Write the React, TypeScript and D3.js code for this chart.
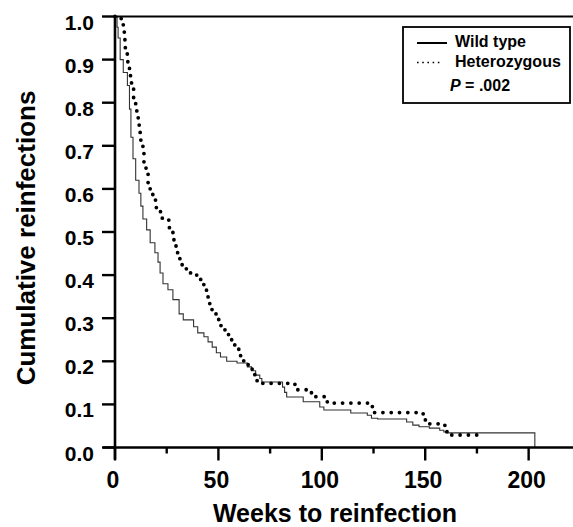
import React, { useEffect, useRef } from 'react';
import * as d3 from 'd3';

// Kaplan-Meier style steps (weeks, cumulative value after the step)
const wildWeeks = [
  0, 1, 1.5, 2.5, 4, 6, 7, 7.7, 8.7, 10,
  11.6, 12.5, 13.5, 15.3, 17, 19.3, 20.8, 21.8, 23.2, 25.6,
  28, 31, 33, 38, 40, 43, 45, 47, 49, 51,
  54, 59, 64, 66, 68, 70, 71, 81, 82, 83,
  91, 99, 101, 114, 122, 124, 127, 141, 144, 147,
  152, 157, 159, 160, 203
];
const wildValues = [
  1.0, 0.975, 0.95, 0.9, 0.87, 0.84, 0.785, 0.72, 0.67, 0.62,
  0.59, 0.56, 0.53, 0.505, 0.475, 0.452, 0.43, 0.405, 0.38, 0.366,
  0.343, 0.31, 0.296, 0.28, 0.266, 0.257, 0.245, 0.233, 0.22, 0.21,
  0.2, 0.196, 0.187, 0.178, 0.168, 0.16, 0.152, 0.14, 0.128, 0.117,
  0.106, 0.094, 0.087, 0.08, 0.075, 0.068, 0.066, 0.059, 0.052, 0.048,
  0.045, 0.04, 0.036, 0.034, 0
];

const hetWeeks = [
  0, 3, 4, 4.5, 5, 5.5, 6, 7, 7.5, 8,
  9, 10, 11, 11.5, 12, 12.5, 13.5, 14, 15, 16,
  17, 18, 19, 20, 22, 26, 27, 28, 28.5, 29.5,
  30.5, 32, 34.5, 36.5, 39, 40.5, 42, 43.5, 44.5, 45,
  46, 47.5, 49, 50.5, 52, 53.5, 56, 57.5, 58.5, 60,
  61.5, 63.5, 65, 66.5, 68, 70, 87, 94, 96, 102,
  104.5, 122.5, 125, 149, 151, 159.5, 161.5, 178
];
const hetValues = [
  1.0, 0.99, 0.966, 0.946, 0.926, 0.913, 0.895, 0.878, 0.862, 0.843,
  0.808, 0.781, 0.765, 0.748, 0.731, 0.7, 0.684, 0.653, 0.634, 0.614,
  0.599, 0.587, 0.574, 0.556, 0.532, 0.51, 0.502, 0.486, 0.469, 0.452,
  0.438, 0.424, 0.414, 0.405, 0.4, 0.39, 0.378, 0.365, 0.351, 0.334,
  0.32, 0.31, 0.297, 0.283, 0.273, 0.262, 0.25, 0.238, 0.228, 0.213,
  0.201, 0.192, 0.182, 0.169, 0.155, 0.149, 0.134, 0.127, 0.118, 0.106,
  0.103, 0.095, 0.081, 0.064, 0.055, 0.037, 0.029, 0.029
];

const yTicks = [0, 0.1, 0.2, 0.3, 0.4, 0.5, 0.6, 0.7, 0.8, 0.9, 1.0];
const xMajorTicks = [0, 50, 100, 150, 200];
const xMinorTicks = [25, 75, 125, 175];
const legendLabels = ['Wild type', 'Heterozygous'];

const FONT = '"Liberation Sans", Arial, sans-serif';

const App = () => {
  const ref = useRef<SVGSVGElement>(null);

  useEffect(() => {
    const width = 573;
    const height = 527;
    const svg = d3.select(ref.current).attr('width', width).attr('height', height);
    svg.selectAll('*').remove();

    const x = d3.scaleLinear().domain([0, 220]).range([115, 570]);
    const y = d3.scaleLinear().domain([0, 1]).range([447.5, 16.5]);

    const line = d3.line<[number, number]>()
      .x(d => x(d[0]))
      .y(d => y(d[1]))
      .curve(d3.curveStepAfter);

    const wild: [number, number][] = wildWeeks.map((w, i) => [w, wildValues[i]]);
    const het: [number, number][] = hetWeeks.map((w, i) => [w, hetValues[i]]);

    // curves
    svg.append('path')
      .attr('d', line(wild))
      .attr('fill', 'none')
      .attr('stroke', '#333')
      .attr('stroke-width', 1.1);

    svg.append('path')
      .attr('d', line(het))
      .attr('fill', 'none')
      .attr('stroke', '#000')
      .attr('stroke-width', 3.8)
      .attr('stroke-linecap', 'round')
      .attr('stroke-dasharray', '0 8.3');

    // frame: left axis, bottom axis, top line
    svg.append('line')
      .attr('x1', x(0)).attr('x2', x(0))
      .attr('y1', y(1) - 1).attr('y2', y(0) + 12)
      .attr('stroke', '#000').attr('stroke-width', 2.6);
    svg.append('line')
      .attr('x1', x(0) - 12).attr('x2', width)
      .attr('y1', y(0)).attr('y2', y(0))
      .attr('stroke', '#000').attr('stroke-width', 2.6);
    svg.append('line')
      .attr('x1', x(0)).attr('x2', width)
      .attr('y1', y(1)).attr('y2', y(1))
      .attr('stroke', '#000').attr('stroke-width', 2.2);

    // y ticks + labels
    const yg = svg.append('g');
    yg.selectAll('line').data(yTicks).join('line')
      .attr('x1', x(0) - 13).attr('x2', x(0))
      .attr('y1', d => y(d)).attr('y2', d => y(d))
      .attr('stroke', '#000').attr('stroke-width', 2.4);
    yg.selectAll('text').data(yTicks).join('text')
      .attr('x', 94)
      .attr('y', d => y(d) + 13)
      .attr('text-anchor', 'end')
      .attr('font-family', FONT)
      .attr('font-weight', 'bold')
      .attr('font-size', 21)
      .text(d => d.toFixed(1));

    // x ticks + labels
    const xg = svg.append('g');
    xg.selectAll('line.major').data(xMajorTicks).join('line')
      .attr('class', 'major')
      .attr('x1', d => x(d)).attr('x2', d => x(d))
      .attr('y1', y(0)).attr('y2', y(0) + 13)
      .attr('stroke', '#000').attr('stroke-width', 2.4);
    xg.selectAll('line.minor').data(xMinorTicks).join('line')
      .attr('class', 'minor')
      .attr('x1', d => x(d)).attr('x2', d => x(d))
      .attr('y1', y(0)).attr('y2', y(0) + 6)
      .attr('stroke', '#000').attr('stroke-width', 2.4);
    xg.selectAll('text').data(xMajorTicks).join('text')
      .attr('x', d => x(d) - 2)
      .attr('y', 488)
      .attr('text-anchor', 'middle')
      .attr('font-family', FONT)
      .attr('font-weight', 'bold')
      .attr('font-size', 23)
      .text(d => String(d));

    // axis titles
    svg.append('text')
      .attr('x', 335).attr('y', 522)
      .attr('text-anchor', 'middle')
      .attr('font-family', FONT)
      .attr('font-weight', 'bold')
      .attr('font-size', 25)
      .text('Weeks to reinfection');
    svg.append('text')
      .attr('transform', 'translate(35,238) rotate(-90)')
      .attr('text-anchor', 'middle')
      .attr('font-family', FONT)
      .attr('font-weight', 'bold')
      .attr('font-size', 26)
      .text('Cumulative reinfections');

    // legend
    const lg = svg.append('g');
    lg.append('rect')
      .attr('x', 403).attr('y', 27)
      .attr('width', 167).attr('height', 76)
      .attr('fill', '#fff')
      .attr('stroke', '#000').attr('stroke-width', 1.8);
    lg.append('line')
      .attr('x1', 417).attr('x2', 447).attr('y1', 43).attr('y2', 43)
      .attr('stroke', '#000').attr('stroke-width', 2);
    lg.append('line')
      .attr('x1', 417).attr('x2', 440).attr('y1', 62.5).attr('y2', 62.5)
      .attr('stroke', '#000').attr('stroke-width', 1.6)
      .attr('stroke-dasharray', '1.6 3.6');
    lg.selectAll('text.lab').data(legendLabels).join('text')
      .attr('class', 'lab')
      .attr('x', 455)
      .attr('y', (d, i) => 47 + i * 20)
      .attr('font-family', FONT)
      .attr('font-weight', 'bold')
      .attr('font-size', 16)
      .text(d => d);
    const p = lg.append('text')
      .attr('x', 450).attr('y', 91)
      .attr('font-family', FONT)
      .attr('font-weight', 'bold')
      .attr('font-size', 16);
    p.append('tspan').attr('font-style', 'italic').text('P');
    p.append('tspan').text(' = .002');
  }, []);

  return (
    <svg ref={ref} style={{ position: 'absolute', left: 0, top: 0, background: '#fff' }} />
  );
};

export default App;
